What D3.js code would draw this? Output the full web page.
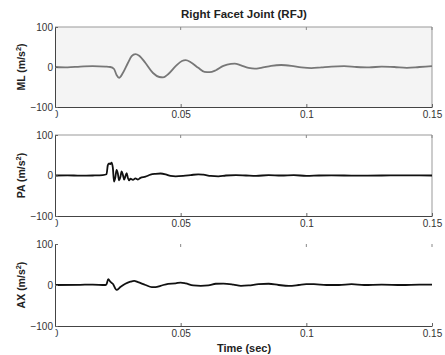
<!DOCTYPE html>
<html>
<head>
<meta charset="utf-8">
<script src="https://cdn.jsdelivr.net/npm/d3@7"></script>
<style>
  body { margin: 0; background: #fff; }
  svg { display: block; font-family: Arial, "Liberation Sans", sans-serif; }
</style>
</head>
<body>
<svg id="chart" width="445" height="355"></svg>
<script>
// Data: [time (s), acceleration (m/s^2)]
const mlData = [
  [0, 0], [0.005, -1], [0.01, 1], [0.015, 2], [0.02, 1], [0.022, 0], [0.0235, -5],
  [0.0245, -20], [0.0255, -27], [0.027, -15], [0.029, 10], [0.0305, 27], [0.032, 32],
  [0.0335, 28], [0.036, 10], [0.039, -15], [0.0415, -25], [0.043, -26], [0.045, -18],
  [0.048, 2], [0.0505, 15], [0.052, 17], [0.054, 12], [0.057, -2], [0.0595, -12],
  [0.0615, -13], [0.064, -8], [0.067, 3], [0.07, 8], [0.0715, 8.5], [0.074, 4],
  [0.077, -2], [0.0795, -4], [0.082, -2], [0.086, 3], [0.09, 5], [0.094, 3],
  [0.098, -1], [0.102, -3], [0.106, -1], [0.11, 1], [0.115, 2], [0.12, 0],
  [0.125, -1], [0.13, 1], [0.135, 0], [0.14, -2], [0.145, 0], [0.15, 2]
];
const paData = [
  [0, 0], [0.005, 0.5], [0.01, -0.5], [0.015, 0], [0.019, 1], [0.0205, 3], [0.021, 25],
  [0.0215, 30], [0.022, 28], [0.0225, 32], [0.023, 20], [0.0235, -15], [0.024, -5],
  [0.0245, 14], [0.025, 5], [0.0255, -12], [0.026, -4], [0.0265, 10], [0.027, 2],
  [0.0275, -10], [0.028, -2], [0.0285, 6], [0.029, -6], [0.0295, -12], [0.03, -8],
  [0.031, -11], [0.032, -7], [0.033, -10], [0.034, -6], [0.036, -3], [0.038, 2],
  [0.04, 4], [0.042, 5], [0.044, 3], [0.046, -1], [0.048, -2], [0.051, -1], [0.054, 1],
  [0.057, 3], [0.059, 2], [0.062, -1], [0.065, -2], [0.068, 0], [0.072, 1], [0.076, 0],
  [0.08, -1], [0.085, 1], [0.09, 0], [0.095, 1], [0.1, -1], [0.105, 0], [0.11, 0.5],
  [0.12, -0.5], [0.13, 0], [0.14, 0.5], [0.145, 0.5], [0.15, 0]
];
const axData = [
  [0, 0], [0.01, 0.5], [0.015, 1], [0.02, 0], [0.0205, 2], [0.0212, 14], [0.022, 8],
  [0.023, 3], [0.0245, -12], [0.026, -5], [0.028, 3], [0.03, 8], [0.0315, 10],
  [0.033, 7], [0.036, 0], [0.0385, -5], [0.04, -5], [0.042, -2], [0.045, 3],
  [0.048, 4], [0.05, 6], [0.052, 4], [0.055, -1], [0.058, -2], [0.061, -1], [0.064, 3],
  [0.067, 3.5], [0.071, 1], [0.074, -2], [0.077, -1], [0.081, 2], [0.085, 3],
  [0.089, 0], [0.093, -2], [0.097, 0], [0.1, 2], [0.103, 2], [0.108, 0], [0.113, 0],
  [0.118, 2], [0.123, 0], [0.13, 1], [0.138, 0], [0.145, 1], [0.15, 1]
];
const xTicks = [0, 0.05, 0.1, 0.15];
const xTickLabels = ['0', '0.05', '0.1', '0.15'];
const yTicks = [-100, 0, 100];
const panelNames = ['ML', 'PA', 'AX'];

const svg = d3.select('#chart');

const left = 55, right = 432;
const panels = [
  { name: panelNames[0], data: mlData, top: 27, bottom: 107, bg: '#f4f4f4', color: '#777', box: true },
  { name: panelNames[1], data: paData, top: 135, bottom: 216, bg: '#fff', color: '#111', box: true },
  { name: panelNames[2], data: axData, top: 244, bottom: 326, bg: '#fff', color: '#111', box: false }
];

const x = d3.scaleLinear().domain([0, 0.15]).range([left, right]);

// clip keeping only the right half of the "0" label (local tick coords)
svg.append('defs').append('clipPath').attr('id', 'labelclip')
  .append('rect').attr('x', 0).attr('y', -10).attr('width', 30).attr('height', 40);

// Title
svg.append('text')
  .attr('x', 244).attr('y', 18)
  .attr('text-anchor', 'middle')
  .attr('font-size', 11.5).attr('font-weight', 'bold').attr('fill', '#222')
  .text('Right Facet Joint (RFJ)');

panels.forEach(p => {
  const y = d3.scaleLinear().domain([-100, 100]).range([p.bottom, p.top]);
  const g = svg.append('g');

  g.append('rect')
    .attr('x', left).attr('y', p.top)
    .attr('width', right - left).attr('height', p.bottom - p.top)
    .attr('fill', p.bg);

  // top / right box edges
  if (p.box) {
    g.append('line').attr('x1', left).attr('x2', right).attr('y1', p.top).attr('y2', p.top)
      .attr('stroke', '#999').attr('stroke-width', 1);
    g.append('line').attr('x1', right).attr('x2', right).attr('y1', p.top).attr('y2', p.bottom)
      .attr('stroke', '#999').attr('stroke-width', 1);
  }
  // top ticks
  g.selectAll('.ttick').data(xTicks.slice(1))
    .join('line')
    .attr('x1', d => x(d)).attr('x2', d => x(d))
    .attr('y1', p.top).attr('y2', p.top + 3)
    .attr('stroke', '#888');

  // line
  const line = d3.line()
    .x(d => x(d[0]))
    .y(d => y(d[1]))
    .curve(d3.curveMonotoneX);
  g.append('path')
    .datum(p.data)
    .attr('d', line)
    .attr('fill', 'none')
    .attr('stroke', p.color)
    .attr('stroke-width', 1.8);

  // x axis
  const xAxis = g.append('g')
    .attr('transform', `translate(0,${p.bottom})`)
    .call(d3.axisBottom(x).tickValues(xTicks).tickSizeInner(-3).tickSizeOuter(0)
      .tickFormat((d, i) => xTickLabels[i]));
  xAxis.select('.domain').attr('stroke', '#444');
  xAxis.selectAll('.tick line').attr('stroke', '#666');
  xAxis.selectAll('.tick text')
    .attr('y', 4).attr('font-size', 10).attr('fill', '#333')
    .attr('font-family', 'Arial, "Liberation Sans", sans-serif');
  xAxis.selectAll('.tick').filter(d => d === 0).select('text').attr('clip-path', 'url(#labelclip)');

  // y axis
  const yAxis = g.append('g')
    .attr('transform', `translate(${left},0)`)
    .call(d3.axisLeft(y).tickValues(yTicks).tickSizeInner(-3).tickSizeOuter(0));
  yAxis.select('.domain').attr('stroke', '#444');
  yAxis.selectAll('.tick line').attr('stroke', '#666');
  yAxis.selectAll('.tick text')
    .attr('x', -2).attr('font-size', 10).attr('fill', '#333')
    .attr('font-family', 'Arial, "Liberation Sans", sans-serif');

  // y label
  const lab = g.append('text')
    .attr('transform', `translate(25,${(p.top + p.bottom) / 2}) rotate(-90)`)
    .attr('text-anchor', 'middle')
    .attr('font-size', 10.5).attr('font-weight', 'bold').attr('fill', '#222');
  lab.append('tspan').text(`${p.name} (m/s`);
  lab.append('tspan').attr('dy', -4).attr('font-size', 7.5).text('2');
  lab.append('tspan').attr('dy', 4).text(')');
});

svg.append('text')
  .attr('x', 244).attr('y', 352)
  .attr('text-anchor', 'middle')
  .attr('font-size', 11).attr('font-weight', 'bold').attr('fill', '#222')
  .text('Time (sec)');
</script>
</body>
</html>
